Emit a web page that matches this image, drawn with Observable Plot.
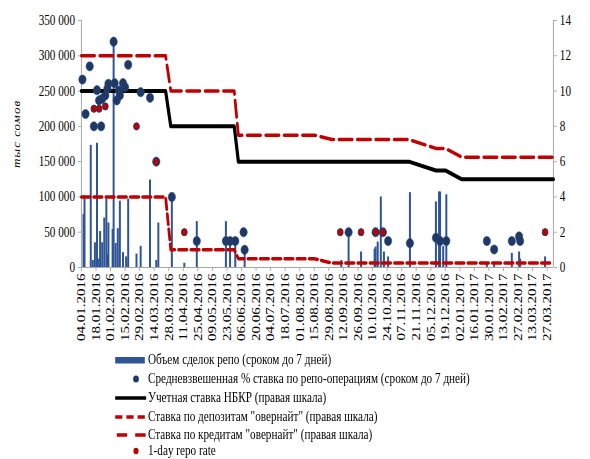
<!DOCTYPE html>
<html><head><meta charset="utf-8">
<script src="https://cdn.jsdelivr.net/npm/d3@7"></script>
<script src="https://cdn.jsdelivr.net/npm/@observablehq/plot@0.6"></script>
<style>
body{margin:0;background:#fff;overflow:hidden;font-family:"Liberation Serif","Times New Roman",serif;color:#000;}
#wrap{position:relative;width:737.5px;height:459px;transform:scaleX(0.8);transform-origin:0 0;}
#chart{position:absolute;left:0;top:0;}
#ylabel{position:absolute;left:21px;top:134px;transform:translate(-50%,-50%) rotate(-90deg);font-style:italic;font-size:13px;letter-spacing:1px;white-space:nowrap;}
.row{position:absolute;left:143px;height:18px;display:flex;align-items:center;font-size:14px;line-height:16px;white-space:nowrap;}
.row svg{width:40px;height:18px;margin-right:2px;flex:none;}
</style></head>
<body>
<div id="wrap">
  <div id="chart"></div>
  <div id="ylabel">тыс сомов</div>
  <div id="legend"></div>
</div>
<script>
// ---- data ----
const tickLabels = ["04.01.2016","18.01.2016","01.02.2016","15.02.2016","29.02.2016","14.03.2016","28.03.2016","11.04.2016","25.04.2016","09.05.2016","23.05.2016","06.06.2016","20.06.2016","04.07.2016","18.07.2016","01.08.2016","15.08.2016","29.08.2016","12.09.2016","26.09.2016","10.10.2016","24.10.2016","07.11.2016","21.11.2016","05.12.2016","19.12.2016","02.01.2017","16.01.2017","30.01.2017","13.02.2017","27.02.2017","13.03.2017","27.03.2017"];
const leftTicks = [0,50000,100000,150000,200000,250000,300000,350000];
const rightTicks = [0,2,4,6,8,10,12,14];

// repo volume (тыс сомов)
const repoVolume = [
 ["2016-01-06",75000],["2016-01-07",101000],["2016-01-13",173000],["2016-01-15",10000],["2016-01-17",35000],
 ["2016-01-19",176000],["2016-01-21",12000],["2016-01-22",51000],["2016-01-24",35000],["2016-01-26",70000],
 ["2016-01-28",97000],["2016-01-29",18000],["2016-01-30",63000],["2016-02-03",54000],["2016-02-04",320000],
 ["2016-02-06",34000],["2016-02-08",55000],["2016-02-10",94000],["2016-02-13",21000],["2016-02-16",15000],
 ["2016-02-18",97000],["2016-02-26",19000],["2016-03-01",30000],["2016-03-10",124000],["2016-03-16",10000],
 ["2016-03-18",63000],["2016-03-31",100000],["2016-04-12",6000],["2016-04-24",65000],["2016-05-22",65000],
 ["2016-05-26",36000],["2016-05-31",34000],["2016-06-09",31000],["2016-09-10",10000],["2016-09-17",48000],
 ["2016-09-29",22000],["2016-10-12",26000],["2016-10-13",29000],["2016-10-15",36000],["2016-10-18",100000],
 ["2016-10-21",22000],["2016-10-25",15000],["2016-11-15",106000],["2016-12-10",93000],["2016-12-13",107000],
 ["2016-12-14",107000],["2016-12-17",30000],["2016-12-20",103000],["2017-01-28",6000],["2017-02-04",5000],
 ["2017-02-21",20000],["2017-02-28",22000],["2017-03-01",12000],["2017-03-25",15000]
];
// weighted average repo rate, %
const repoRate = [
 ["2016-01-05",10.65],["2016-01-08",8.7],["2016-01-12",11.4],["2016-01-16",8.0],["2016-01-19",10.05],
 ["2016-01-21",9.47],["2016-01-23",8.0],["2016-01-24",9.56],["2016-01-27",9.75],["2016-01-29",10.13],
 ["2016-01-30",10.41],["2016-02-04",12.8],["2016-02-05",10.45],["2016-02-07",9.47],["2016-02-09",10.03],
 ["2016-02-10",9.75],["2016-02-13",10.45],["2016-02-15",10.22],["2016-02-18",11.49],["2016-03-01",9.94],
 ["2016-03-10",9.62],["2016-03-16",6.0],["2016-03-31",4.0],["2016-04-24",1.5],["2016-05-22",1.5],
 ["2016-05-26",1.5],["2016-05-31",1.5],["2016-06-08",2.0],["2016-06-09",1.0],["2016-09-17",2.0],
 ["2016-10-13",2.0],["2016-10-20",2.0],["2016-10-25",1.5],["2016-11-15",1.38],["2016-12-10",1.68],
 ["2016-12-14",1.5],["2016-12-20",1.5],["2017-01-28",1.5],["2017-02-04",1.02],["2017-02-21",1.5],
 ["2017-02-28",1.76],["2017-03-01",1.5]
];
// 1-day repo rate, %
const oneDayRate = [
 ["2016-01-16",9.0],["2016-01-21",9.0],["2016-01-27",9.13],["2016-02-26",8.0],["2016-03-16",6.0],
 ["2016-04-12",2.0],["2016-09-09",2.0],["2016-09-29",2.0],["2016-10-13",2.0],["2016-10-20",2.0],
 ["2017-03-25",2.0]
];
// policy rate, %
const policyRate = [
 ["2016-01-04",10],["2016-03-25",10],["2016-03-30",8],["2016-05-30",8],["2016-06-03",6],
 ["2016-11-14",6],["2016-12-10",5.5],["2016-12-19",5.5],["2017-01-04",5],["2017-04-02",5]
];
// overnight deposit rate, %
const depositRate = [
 ["2016-01-04",4],["2016-03-25",4],["2016-03-30",1],["2016-05-30",1],["2016-06-03",0.5],
 ["2016-08-15",0.5],["2016-09-01",0.25],["2017-04-02",0.25]
];
// overnight credit rate, %
const creditRate = [
 ["2016-01-04",12],["2016-03-25",12],["2016-03-30",10],["2016-05-30",10],["2016-06-03",7.5],
 ["2016-08-15",7.5],["2016-09-01",7.25],["2016-11-14",7.25],["2016-12-10",6.75],["2016-12-19",6.75],
 ["2017-01-04",6.25],["2017-04-02",6.25]
];
const legendLabels = [
 "Объем сделок репо (сроком до 7 дней)",
 "Средневзвешенная % ставка по репо-операциям (сроком до 7 дней)",
 "Учетная ставка НБКР (правая шкала)",
 "Ставка по депозитам \"овернайт\" (правая шкала)",
 "Ставка по кредитам \"овернайт\" (правая шкала)",
 "1-day repo rate"
];

// ---- chart ----
const K = 25000; // right axis 14 <-> left axis 350000
const pd = d3.utcParse("%Y-%m-%d");
const pt = d3.utcParse("%d.%m.%Y");
const tickDates = tickLabels.map(pt);
const xDomain = [pd("2016-01-04"), pd("2017-04-02")];
const BAR = "#2f5597", NAVY = "#1f3864", RED = "#c00000", AX = "#a6a6a6";
const fmtL = d => d3.format(",")(d).replace(/,/g, " ");

const chart = Plot.plot({
  width: 737.5, height: 345,
  marginLeft: 101.25, marginRight: 46.25, marginTop: 20, marginBottom: 78,
  x: {type: "utc", domain: xDomain},
  y: {domain: [0, 350000]},
  style: {fontFamily: "Liberation Serif, Times New Roman, serif", fontSize: "14px", color: "#000", background: "#fff", overflow: "visible"},
  marks: [
    Plot.ruleX([xDomain[0], xDomain[1]], {stroke: AX, strokeWidth: 1.2}),
    Plot.ruleY([0], {stroke: AX, strokeWidth: 1.2}),
    Plot.axisY({anchor: "left", ticks: leftTicks, tickFormat: fmtL, tickSize: 4, tickPadding: 4, stroke: AX, label: null, fontSize: 14}),
    Plot.axisY({anchor: "right", ticks: rightTicks.map(v => v * K), tickFormat: d => String(d / K), tickSize: 4, tickPadding: 4, stroke: AX, label: null, fontSize: 14}),
    Plot.axisX({ticks: tickDates, tickFormat: d3.utcFormat("%d.%m.%Y"), tickRotate: -90, tickSize: 4, tickPadding: 2, stroke: AX, label: null, fontSize: 15}),
    Plot.ruleX(repoVolume, {x: d => pd(d[0]), y1: 0, y2: d => d[1], stroke: BAR, strokeWidth: 2.5}),
    Plot.line(depositRate, {x: d => pd(d[0]), y: d => d[1] * K, stroke: RED, strokeWidth: 3.5, strokeDasharray: "10.5,4.8"}),
    Plot.line(creditRate, {x: d => pd(d[0]), y: d => d[1] * K, stroke: RED, strokeWidth: 3.5, strokeDasharray: "16.5,6.5"}),
    Plot.line(policyRate, {x: d => pd(d[0]), y: d => d[1] * K, stroke: "#000", strokeWidth: 4}),
    Plot.dot(repoRate, {x: d => pd(d[0]), y: d => d[1] * K, r: 4.6, fill: NAVY, stroke: "#2a4a80", strokeWidth: 0.6}),
    Plot.dot(oneDayRate, {x: d => pd(d[0]), y: d => d[1] * K, r: 3.6, fill: RED, stroke: NAVY, strokeWidth: 1})
  ]
});
document.getElementById("chart").append(chart);

// ---- legend ----
const swatches = [
  `<rect x="1" y="6" width="37" height="6.5" fill="${BAR}"/>`,
  `<circle cx="27" cy="9" r="3.6" fill="${NAVY}"/>`,
  `<line x1="1" y1="9" x2="40" y2="9" stroke="#000" stroke-width="3.5"/>`,
  `<line x1="1" y1="9" x2="39" y2="9" stroke="${RED}" stroke-width="3.5" stroke-dasharray="9,5"/>`,
  `<line x1="3" y1="9" x2="39" y2="9" stroke="${RED}" stroke-width="3.5" stroke-dasharray="13,10"/>`,
  `<circle cx="27" cy="9" r="3.2" fill="${RED}"/>`
];
const rowCenters = [359.5, 378.5, 397.5, 416.5, 434.5, 451];
const legend = document.getElementById("legend");
legendLabels.forEach((t, i) => {
  const row = document.createElement("div");
  row.className = "row";
  row.style.top = (rowCenters[i] - 9) + "px";
  row.innerHTML = `<svg viewBox="0 0 40 18">${swatches[i]}</svg>`;
  const s = document.createElement("span");
  s.textContent = t;
  row.append(s);
  legend.append(row);
});
</script>
</body></html>
